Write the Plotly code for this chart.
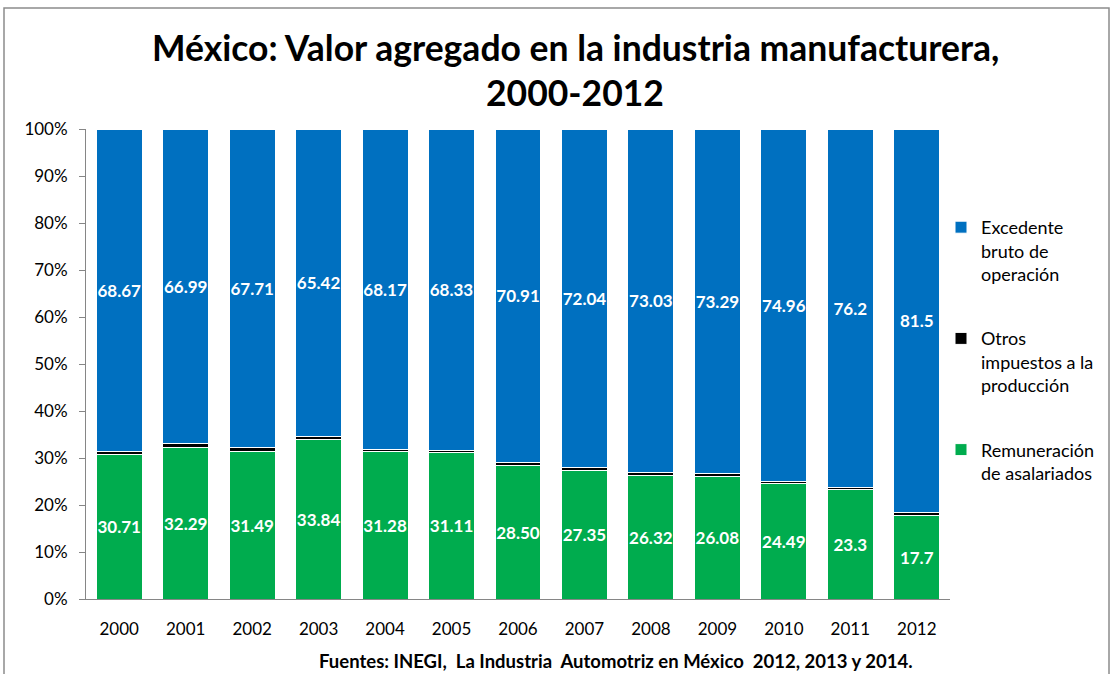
import plotly.graph_objects as go

years = ["2000", "2001", "2002", "2003", "2004", "2005", "2006",
         "2007", "2008", "2009", "2010", "2011", "2012"]

# Shares of manufacturing value added (%), as published
remuneracion_lbl = ["30.71", "32.29", "31.49", "33.84", "31.28", "31.11", "28.50",
                    "27.35", "26.32", "26.08", "24.49", "23.3", "17.7"]
excedente_lbl = ["68.67", "66.99", "67.71", "65.42", "68.17", "68.33", "70.91",
                 "72.04", "73.03", "73.29", "74.96", "76.2", "81.5"]
otros = [0.62, 0.72, 0.80, 0.74, 0.55, 0.56, 0.59, 0.61, 0.65, 0.63, 0.55, 0.50, 0.80]

remuneracion = [float(s) for s in remuneracion_lbl]
excedente = [float(s) for s in excedente_lbl]

FONT = "Lato"
W, H = 1112, 674
L, R, T, B = 86, 162, 129, 75

fig = go.Figure()
label_font = dict(family=FONT, size=17, color="white")
fig.add_trace(go.Bar(
    x=years, y=remuneracion, name="Remuneración<br>de asalariados",
    marker=dict(color="#00AC4E", line=dict(color="white", width=1)),
    text=["<b>%s</b>" % s for s in remuneracion_lbl], textposition="inside",
    insidetextanchor="middle", textangle=0, textfont=label_font,
    constraintext="none", legendgroup="c", legendrank=3, hoverinfo="skip"))
fig.add_trace(go.Bar(
    x=years, y=otros, name="Otros<br>impuestos a la<br>producción",
    marker=dict(color="#000000", line=dict(color="white", width=1)),
    legendgroup="b", legendrank=2, hoverinfo="skip"))
fig.add_trace(go.Bar(
    x=years, y=excedente, name="Excedente<br>bruto de<br>operación",
    marker=dict(color="#0070C0", line=dict(color="white", width=1)),
    text=["<b>%s</b>" % s for s in excedente_lbl], textposition="inside",
    insidetextanchor="middle", textangle=0, textfont=label_font,
    constraintext="none", legendgroup="a", legendrank=1, hoverinfo="skip"))

pw, ph = W - L - R, H - T - B

def px_x(v):
    return (v - L) / pw

def px_y(v):
    return (H - B - v) / ph

title_font = dict(family=FONT, size=35.5, color="#000000")

fig.update_layout(
    width=W, height=H, barmode="stack", bargap=0.31,
    margin=dict(l=L, r=R, t=T, b=B, autoexpand=False),
    paper_bgcolor="white", plot_bgcolor="white",
    font=dict(family=FONT, size=17, color="#000000"),
    xaxis=dict(showline=True, linecolor="#868686", linewidth=1, ticks="",
               tickfont=dict(size=17), showgrid=False, ticklabelstandoff=15),
    yaxis=dict(range=[0, 100], dtick=10, ticksuffix="%", showline=True,
               linecolor="#868686", linewidth=1, ticks="outside", ticklen=6,
               tickcolor="#868686", showgrid=False, tickfont=dict(size=17),
               ticklabelstandoff=8),
    legend=dict(x=px_x(941), xanchor="left", y=px_y(209), yanchor="top",
                traceorder="grouped", tracegroupgap=38, valign="top",
                font=dict(family=FONT, size=18), itemwidth=30),
    showlegend=True,
    annotations=[
        dict(text="<b>México: Valor agregado en la industria manufacturera,</b>",
             xref="paper", yref="paper", x=px_x(575), y=px_y(47),
             xanchor="center", yanchor="middle", showarrow=False, font=title_font),
        dict(text="<b>2000-2012</b>",
             xref="paper", yref="paper", x=px_x(575), y=px_y(93),
             xanchor="center", yanchor="middle", showarrow=False, font=title_font),
        dict(text="<b>Fuentes: INEGI,&nbsp; La Industria&nbsp; Automotriz en México&nbsp; 2012, 2013 y 2014.</b>",
             xref="paper", yref="paper", x=px_x(616), y=px_y(661),
             xanchor="center", yanchor="middle", showarrow=False,
             font=dict(family=FONT, size=18.5, color="#000000")),
    ],
    shapes=[dict(type="rect", xref="paper", yref="paper",
                 x0=px_x(4), x1=px_x(1109), y0=px_y(710), y1=px_y(8),
                 line=dict(color="#8C8C8C", width=1.5), layer="above")],
)

fig.write_html("out.html")
